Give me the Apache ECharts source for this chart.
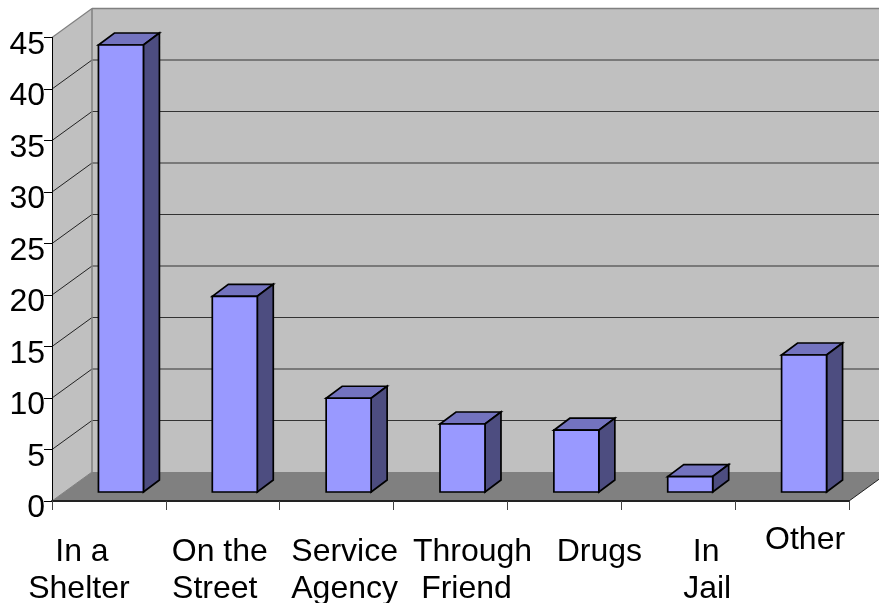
<!DOCTYPE html>
<html>
<head>
<meta charset="utf-8">
<style>html,body{margin:0;padding:0;background:#fff}#chart{width:879px;height:603px}</style>
<script src="https://cdn.jsdelivr.net/npm/echarts@6/dist/echarts.min.js"></script>
</head>
<body>
<div id="chart"></div>
<script>
// How people first came into contact: counts per category
var categories = ['In a\nShelter', 'On the\nStreet', 'Service\nAgency', 'Through\nFriend', 'Drugs', 'In\nJail', 'Other'];
var counts = [43.4, 19, 9.1, 6.6, 6, 1.5, 13.3];
var yTicks = [5, 10, 15, 20, 25, 30, 35, 40];

// Pseudo-3D projection of the chart box and of each bar, in pixels
var BOX_DX = 40, BOX_DY = -29;
var BAR_INSET_DX = 12, BAR_INSET_DY = -9;
var BAR_DX = 16, BAR_DY = -12;
var BAR_RATIO = 0.395;

// Per-line horizontal nudges of the category labels; single raised label is the last
var lineNudge = [[-27, -30], [-3, -8], [8, 8], [22, 16], [35, 0], [28, 29], [13, 0]];
var firstLineHeight = [37, 37, 37, 37, 37, 37, 13];

function poly(points, fill, stroke, width) {
  return {
    type: 'polygon',
    shape: { points: points },
    style: { fill: fill, stroke: stroke || null, lineWidth: width || 0, lineJoin: 'miter' }
  };
}
function line(a, b, stroke, width) {
  return {
    type: 'line',
    shape: { x1: a[0], y1: a[1], x2: b[0], y2: b[1] },
    style: { stroke: stroke, lineWidth: width, fill: null }
  };
}

// Walls, floor and receding gridlines of the box
function renderBox(params, api) {
  var half = api.size([1, 0])[0] / 2;
  var last = categories.length - 1;
  var x0 = api.coord([0, 0])[0] - half;
  var x1 = api.coord([last, 0])[0] + half;
  var y0 = api.coord([0, 0])[1];
  var yT = api.coord([0, 45])[1];
  var d = [BOX_DX, BOX_DY];
  var kids = [
    poly([[x0 + d[0], yT + d[1]], [x1 + d[0], yT + d[1]], [x1 + d[0], y0 + d[1]], [x0 + d[0], y0 + d[1]]], '#c0c0c0'),
    poly([[x0, yT], [x0 + d[0], yT + d[1]], [x0 + d[0], y0 + d[1]], [x0, y0]], '#c0c0c0'),
    poly([[x0, y0], [x1, y0], [x1 + d[0], y0 + d[1]], [x0 + d[0], y0 + d[1]]], '#808080')
  ];
  yTicks.forEach(function (t) {
    var y = api.coord([0, t])[1];
    kids.push(line([x0, y], [x0 + d[0], y + d[1]], '#222', 1));
    kids.push(line([x0 + d[0], y + d[1]], [x1 + d[0], y + d[1]], '#333', 1));
  });
  kids.push(line([x0, yT], [x0 + d[0], yT + d[1]], '#808080', 1.2));
  kids.push(line([x0 + d[0], yT + d[1]], [x1 + d[0], yT + d[1]], '#808080', 1.5));
  kids.push(line([x0 + d[0], yT + d[1]], [x0 + d[0], y0 + d[1]], '#808080', 1.5));
  kids.push(line([x0, y0], [x0 + d[0], y0 + d[1]], '#808080', 1));
  kids.push(line([x1, y0], [x1 + d[0], y0 + d[1]], '#222', 1));
  return { type: 'group', children: kids };
}

// One prism per category: front face, top and right side
function renderBar(params, api) {
  var base = api.coord([api.value(0), 0]);
  var head = api.coord([api.value(0), api.value(1)]);
  var w = api.size([1, 0])[0] * BAR_RATIO;
  var l = base[0] - w / 2 + BAR_INSET_DX, r = l + w;
  var b = base[1] + BAR_INSET_DY, t = head[1] + BAR_INSET_DY;
  return {
    type: 'group',
    children: [
      poly([[l, t], [r, t], [r + BAR_DX, t + BAR_DY], [l + BAR_DX, t + BAR_DY]], '#7373bf', '#000', 1.7),
      poly([[r, t], [r + BAR_DX, t + BAR_DY], [r + BAR_DX, b + BAR_DY], [r, b]], '#4d4d80', '#000', 1.7),
      poly([[l, t], [r, t], [r, b], [l, b]], '#9999ff', '#000', 1.7)
    ]
  };
}

var rich = {};
var lineStyle = { fontFamily: 'Liberation Sans', fontSize: 32, color: '#000' };
function tokenName(c, n) { return 'c' + c + 'l' + n; }
categories.forEach(function (label, c) {
  label.split('\n').forEach(function (text, n) {
    var shift = lineNudge[c][n] * 2;
    rich[tokenName(c, n)] = Object.assign({}, lineStyle, {
      lineHeight: n === 0 ? firstLineHeight[c] : 37,
      padding: [0, shift < 0 ? -shift : 0, 0, shift > 0 ? shift : 0]
    });
  });
});

var chart = echarts.init(document.getElementById('chart'));
chart.setOption({
  animation: false,
  backgroundColor: '#fff',
  grid: { left: 52, right: 30, top: 37.5, bottom: 102, outerBoundsMode: 'none' },
  xAxis: {
    type: 'category',
    data: categories,
    axisLine: { lineStyle: { color: '#222', width: 2 } },
    axisTick: { show: true, length: 9, alignWithLabel: false, lineStyle: { color: '#444', width: 1 } },
    axisLabel: {
      interval: 0,
      margin: 33,
      verticalAlign: 'top',
      hideOverlap: false,
      rich: rich,
      formatter: function (value, index) {
        return value.split('\n').map(function (text, n) {
          return '{' + tokenName(index, n) + '|' + text + '}';
        }).join('\n');
      }
    }
  },
  yAxis: {
    type: 'value',
    min: 0,
    max: 45,
    interval: 5,
    splitLine: { show: false },
    axisLine: { show: true, lineStyle: { color: '#000', width: 1 } },
    axisTick: { show: true, length: 8, lineStyle: { color: '#000', width: 1 } },
    axisLabel: {
      margin: 7,
      verticalAlign: 'top',
      lineHeight: 15,
      fontFamily: 'Liberation Sans',
      fontSize: 32,
      color: '#000',
      showMinLabel: true,
      showMaxLabel: true
    }
  },
  series: [
    { type: 'custom', z: -1, silent: true, renderItem: renderBox, data: [[0, 0]], encode: { x: 0, y: 1 } },
    {
      type: 'custom',
      z: 3,
      renderItem: renderBar,
      encode: { x: 0, y: 1 },
      data: counts.map(function (v, i) { return [i, v]; })
    }
  ]
});
</script>
</body>
</html>
